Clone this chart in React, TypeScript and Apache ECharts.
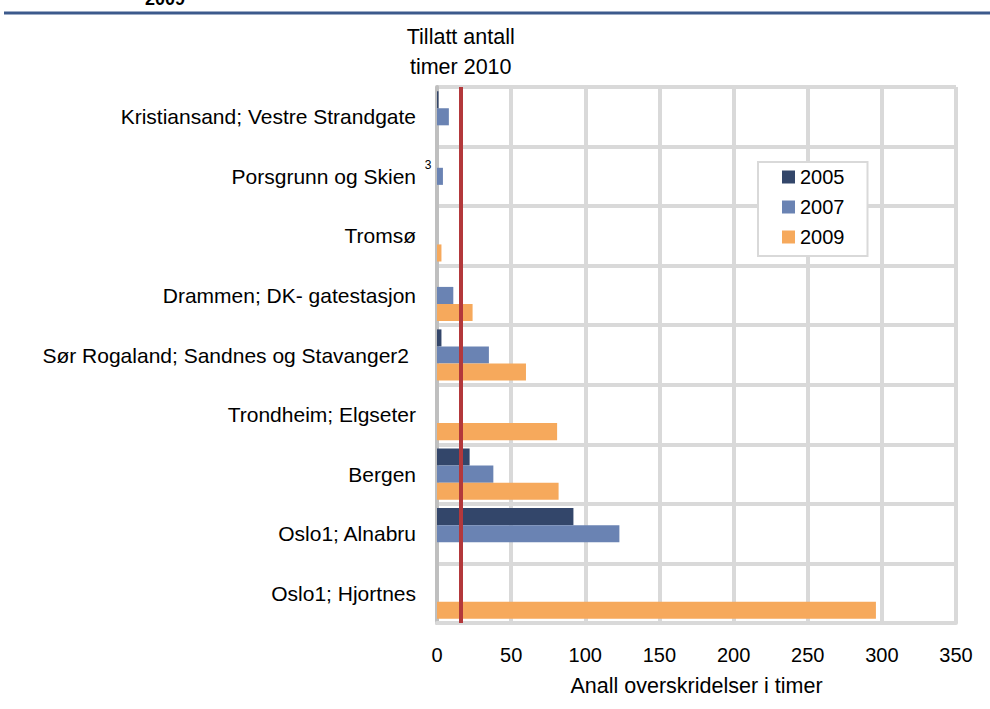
import React, { useEffect, useRef } from "react";
import * as echarts from "echarts";

const categories = [
  "Kristiansand; Vestre Strandgate",
  "Porsgrunn og Skien",
  "Tromsø",
  "Drammen; DK- gatestasjon",
  "Sør Rogaland; Sandnes og Stavanger2",
  "Trondheim; Elgseter",
  "Bergen",
  "Oslo1; Alnabru",
  "Oslo1; Hjortnes",
];
const v2005 = [1, null, null, null, 3, null, 22, 92, null];
const v2007 = [8, 4, null, 11, 35, null, 38, 123, null];
const v2009 = [null, null, 3, 24, 60, 81, 82, null, 296];
const seriesNames = ["2005", "2007", "2009"];
const limit2010 = 16;
const xTicks = [0, 50, 100, 150, 200, 250, 300, 350];
const footnoteCategory = "Porsgrunn og Skien";
const footnoteMark = "3";

const FONT = "'Liberation Sans', Arial, sans-serif";
const FS = 20;
const FSL = 21;
const FSN = 21.5;

export default function App() {
  const ref = useRef<HTMLDivElement>(null);
  useEffect(() => {
    if (!ref.current) return;
    const chart = echarts.init(ref.current, null, { renderer: "svg" });
    const colors = ["#33466a", "#6a83b3", "#f6a95c"];
    const values = [v2005, v2007, v2009];
    const staticGraphics = [
      {
        type: "line",
        shape: { x1: 4, y1: 13, x2: 990, y2: 13 },
        style: { stroke: "#3c5a8c", lineWidth: 3 },
      },
      {
        type: "text",
        x: 145,
        y: 8,
        style: { text: "2009", fill: "#000", font: "bold 18px " + FONT, textVerticalAlign: "bottom" },
      },
    ];
    chart.setOption({
      animation: false,
      textStyle: { fontFamily: FONT },
      grid: { left: 437, right: 34, top: 87, bottom: 86, containLabel: false },
      legend: {
        orient: "vertical",
        left: 758,
        top: 162,
        padding: [5, 23, 9, 24],
        itemWidth: 13,
        itemHeight: 13,
        itemGap: 10,
        backgroundColor: "#ffffff",
        borderColor: "#d9d9d9",
        borderWidth: 2,
        borderRadius: 0,
        icon: "rect",
        data: seriesNames,
        textStyle: { fontSize: FS, color: "#000", fontFamily: FONT, lineHeight: 20 },
      },
      xAxis: {
        type: "value",
        min: xTicks[0],
        max: xTicks[xTicks.length - 1],
        interval: 50,
        name: "Anall overskridelser i timer",
        nameLocation: "middle",
        nameGap: 52,
        nameTextStyle: { fontSize: FSN, color: "#000", fontFamily: FONT },
        axisLine: { show: true, lineStyle: { color: "#d9d9d9", width: 4 } },
        axisTick: { show: false },
        axisLabel: { fontSize: FS, color: "#000", margin: 22, fontFamily: FONT },
        splitLine: { show: true, lineStyle: { color: "#d9d9d9", width: 4 } },
      },
      yAxis: {
        type: "category",
        data: categories,
        inverse: true,
        axisLine: { show: true, lineStyle: { color: "#bfbfbf", width: 4 } },
        axisTick: { show: false },
        splitLine: { show: true, lineStyle: { color: "#d9d9d9", width: 4 } },
        axisLabel: {
          margin: 21,
          fontSize: FSL,
          color: "#000",
          fontFamily: FONT,
          formatter: (v: string) => {
            if (v.indexOf("Stavanger2") >= 0) return "{pad|" + v + "}";
            return v;
          },
          rich: {
            pad: { fontSize: FSL, color: "#000", padding: [0, 7, 0, 0], fontFamily: FONT },
          },
        },
      },
      series: seriesNames.map((name, i) => ({
        name,
        type: "bar",
        data: values[i],
        barGap: "0%",
        barCategoryGap: "14%",
        itemStyle: { color: colors[i] },
        ...(i === 2
          ? {
              markLine: {
                silent: true,
                symbol: ["none", "none"],
                label: { show: false },
                lineStyle: { color: "#b3383b", width: 4, type: "solid" },
                data: [{ xAxis: limit2010 }],
                z: 10,
              },
            }
          : {}),
      })),
      graphic: staticGraphics,
    });
    const px = chart.convertToPixel({ xAxisIndex: 0 }, limit2010) as number;
    const x0 = chart.convertToPixel({ xAxisIndex: 0 }, 0) as number;
    const fy = chart.convertToPixel({ yAxisIndex: 0 }, footnoteCategory) as number;
    chart.setOption({
      graphic: [
        ...staticGraphics,
        {
          type: "text",
          x: px,
          y: 52,
          style: {
            text: "Tillatt antall\ntimer 2010",
            fill: "#000",
            font: FSN + "px " + FONT,
            lineHeight: 30,
            textAlign: "center",
            textVerticalAlign: "middle",
          },
        },
        {
          type: "text",
          x: x0 - 9,
          y: fy - 11,
          style: {
            text: footnoteMark,
            fill: "#000",
            font: "12px " + FONT,
            textAlign: "center",
            textVerticalAlign: "middle",
          },
        },
      ],
    });
    return () => chart.dispose();
  }, []);
  return (
    <div
      ref={ref}
      style={{ position: "fixed", left: 0, top: 0, width: 990, height: 709, background: "#fff" }}
    />
  );
}
